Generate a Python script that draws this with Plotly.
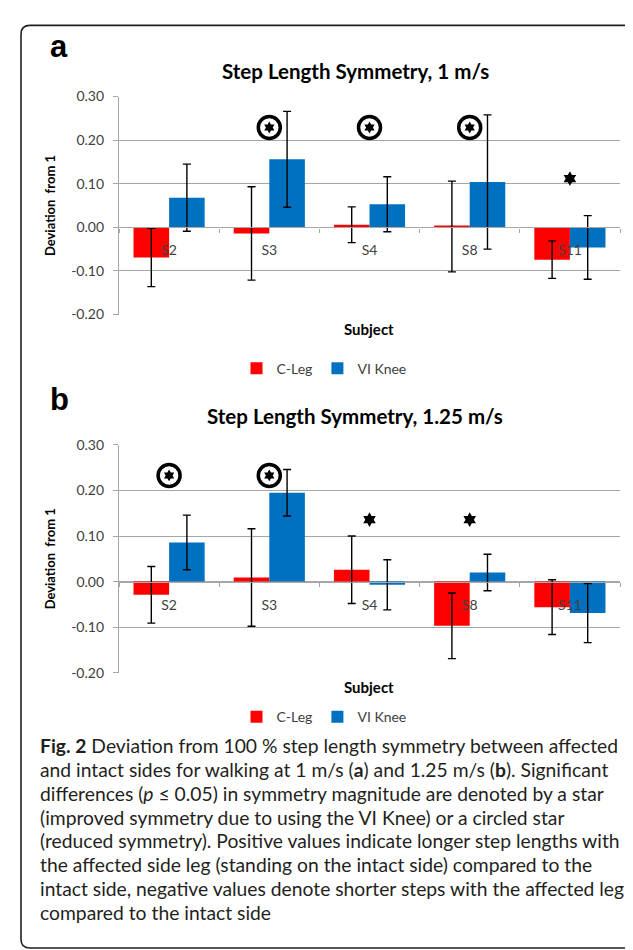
import plotly.graph_objects as go

# ---------------- data ----------------
subjects = ["S2", "S3", "S4", "S8", "S11"]
series_names = ["C-Leg", "VI Knee"]

cleg_1ms = [-0.069, -0.014, 0.006, 0.002, -0.074]
cleg_1ms_err = [0.067, 0.107, 0.041, 0.104, 0.043]
vi_1ms = [0.068, 0.156, 0.053, 0.104, -0.046]
vi_1ms_err = [0.077, 0.110, 0.063, 0.154, 0.073]

cleg_125ms = [-0.029, 0.009, 0.026, -0.097, -0.056]
cleg_125ms_err = [0.062, 0.107, 0.074, 0.072, 0.060]
vi_125ms = [0.086, 0.195, -0.007, 0.020, -0.069]
vi_125ms_err = [0.060, 0.051, 0.055, 0.040, 0.065]

# significance markers (subject, y level)
circled_1ms = ["S3", "S4", "S8"]
circled_1ms_y = [0.229, 0.229, 0.229]
star_1ms = ["S11"]
star_1ms_y = [0.112]
circled_125ms = ["S2", "S3"]
circled_125ms_y = [0.233, 0.233]
star_125ms = ["S4", "S8"]
star_125ms_y = [0.136, 0.136]

y_ticks = [-0.20, -0.10, 0.00, 0.10, 0.20, 0.30]
y_ticktext = ["-0.20", "-0.10", "0.00", "0.10", "0.20", "0.30"]

titles = ["Step Length Symmetry, 1 m/s", "Step Length Symmetry, 1.25 m/s"]
panel_letters = ["a", "b"]

caption_lines = [
    "<b>Fig. 2</b> Deviation from 100 % step length symmetry between affected",
    "and intact sides for walking at 1 m/s (<b>a</b>) and 1.25 m/s (<b>b</b>). Significant",
    "differences (<i>p</i> \u2264 0.05) in symmetry magnitude are denoted by a star",
    "(improved symmetry due to using the VI Knee) or a circled star",
    "(reduced symmetry). Positive values indicate longer step lengths with",
    "the affected side leg (standing on the intact side) compared to the",
    "intact side, negative values denote shorter steps with the affected leg",
    "compared to the intact side",
]

# ---------------- layout helpers ----------------
W, H = 633, 950
RED = "#FF0000"
BLUE = "#0070C0"
GRID = "#A6A6A6"
TXT = "#404040"
FONT = "Lato"


def px(x):
    return x / W


def py(y):
    return 1 - y / H


x_dom = [px(111), px(612)]
top_dom = [py(303), py(81)]
bot_dom = [py(667.7), py(435.7)]
yr = [-0.2, 0.3]


def zero_pos(dom):
    return dom[0] + (0 - yr[0]) / (yr[1] - yr[0]) * (dom[1] - dom[0])


fig = go.Figure()

panels = [
    dict(x="x", y="y", legend="legend", vals=(cleg_1ms, cleg_1ms_err, vi_1ms, vi_1ms_err),
         circ=(circled_1ms, circled_1ms_y), star=(star_1ms, star_1ms_y)),
    dict(x="x2", y="y2", legend="legend2", vals=(cleg_125ms, cleg_125ms_err, vi_125ms, vi_125ms_err),
         circ=(circled_125ms, circled_125ms_y), star=(star_125ms, star_125ms_y)),
]

for p in panels:
    c, ce, v, ve = p["vals"]
    for name, vals, errs, col in [(series_names[0], c, ce, RED), (series_names[1], v, ve, BLUE)]:
        fig.add_trace(go.Bar(
            x=subjects, y=vals, name=name, marker=dict(color=col, line=dict(width=0)),
            error_y=dict(type="data", array=errs, visible=True, color="black",
                         thickness=1.4, width=4),
            xaxis=p["x"], yaxis=p["y"], legend=p["legend"],
        ))
    # circled stars
    cx, cy = p["circ"]
    fig.add_trace(go.Scatter(
        x=cx, y=cy, mode="markers", showlegend=False, hoverinfo="skip",
        marker=dict(symbol="circle-open", size=22, color="black", line=dict(width=3.5, color="black")),
        xaxis=p["x"], yaxis=p["y"],
    ))
    fig.add_trace(go.Scatter(
        x=cx, y=cy, mode="markers", showlegend=False, hoverinfo="skip",
        marker=dict(symbol="hexagram", size=9, color="black"),
        xaxis=p["x"], yaxis=p["y"],
    ))
    sx, sy = p["star"]
    fig.add_trace(go.Scatter(
        x=sx, y=sy, mode="markers", showlegend=False, hoverinfo="skip",
        marker=dict(symbol="hexagram", size=11, color="black"),
        xaxis=p["x"], yaxis=p["y"],
    ))

xaxis_common = dict(
    domain=x_dom, anchor="free", type="category", showline=True, linecolor=GRID, linewidth=1.3,
    ticks="outside", tickson="boundaries", ticklen=4, tickcolor=GRID, tickwidth=1.2,
    showgrid=False, tickfont=dict(family=FONT, size=14, color=TXT), ticklabelstandoff=10,
    zeroline=False, fixedrange=True,
)
yaxis_common = dict(
    range=yr, tickvals=y_ticks, ticktext=y_ticktext, showgrid=True, gridcolor=GRID, gridwidth=1.3,
    showline=True, linecolor=GRID, linewidth=1.3, ticks="outside", ticklen=5, tickcolor=GRID,
    tickwidth=1.3, zeroline=False, tickfont=dict(family=FONT, size=14, color=TXT),
    ticklabelstandoff=6,
    title=dict(text="<b>Deviation  from 1</b>", font=dict(family=FONT, size=13, color="black"),
               standoff=12),
    fixedrange=True,
)

legend_common = dict(orientation="h", xanchor="center", yanchor="middle",
                     font=dict(family=FONT, size=14, color=TXT), itemwidth=30,
                     bgcolor="rgba(0,0,0,0)", traceorder="normal")

fig.update_layout(
    width=W, height=H, margin=dict(l=0, r=0, t=0, b=0),
    paper_bgcolor="white", plot_bgcolor="white",
    barmode="group", bargap=0.29, bargroupgap=0,
    showlegend=True,
    xaxis=dict(xaxis_common, position=zero_pos(top_dom), categoryorder="array", categoryarray=subjects),
    xaxis2=dict(xaxis_common, position=zero_pos(bot_dom), categoryorder="array", categoryarray=subjects),
    yaxis=dict(yaxis_common, domain=top_dom, anchor="x"),
    yaxis2=dict(yaxis_common, domain=bot_dom, anchor="x2"),
    legend=dict(legend_common, x=px(316), y=py(358)),
    legend2=dict(legend_common, x=px(316), y=py(713)),
)

annotations = []
# titles, subject labels, panel letters
for title, ty, sub_y, letter, ly in [
    (titles[0], 55, 318, panel_letters[0], 30.5),
    (titles[1], 406.7, 682.7, panel_letters[1], 389),
]:
    annotations.append(dict(text=f"<b>{title}</b>", x=px(347), y=py(ty), xref="paper", yref="paper",
                            showarrow=False, xanchor="center", yanchor="middle",
                            font=dict(family=FONT, size=20.5, color="black")))
    annotations.append(dict(text="<b>Subject</b>", x=px(361), y=py(sub_y), xref="paper", yref="paper",
                            showarrow=False, xanchor="center", yanchor="middle",
                            font=dict(family=FONT, size=15, color="black")))
    annotations.append(dict(text=f"<b>{letter}</b>", x=px(40), y=py(ly), xref="paper", yref="paper",
                            showarrow=False, xanchor="left", yanchor="middle",
                            font=dict(family="Liberation Sans", size=31, color="black")))

line_y0, line_dy = 741.7, 24.3
for i, line in enumerate(caption_lines):
    annotations.append(dict(text=line, x=px(30), y=py(line_y0 + i * line_dy), xref="paper", yref="paper",
                            showarrow=False, xanchor="left", yanchor="middle",
                            font=dict(family=FONT, size=19.3, color="#231F20")))
fig.update_layout(annotations=annotations)

# rounded border
x0, x1, y0, y1 = px(13), px(630), py(8.5), py(948)
rx, ry = 9 / W, 9 / H
path = (f"M {x0+rx},{y0} L {x1-rx},{y0} Q {x1},{y0} {x1},{y0-ry} "
        f"L {x1},{y1+ry} Q {x1},{y1} {x1-rx},{y1} L {x0+rx},{y1} Q {x0},{y1} {x0},{y1+ry} "
        f"L {x0},{y0-ry} Q {x0},{y0} {x0+rx},{y0} Z")
fig.add_shape(type="path", path=path, xref="paper", yref="paper",
              line=dict(color="#231F20", width=1.6), fillcolor="rgba(0,0,0,0)", layer="above")

fig.write_html("out.html")
